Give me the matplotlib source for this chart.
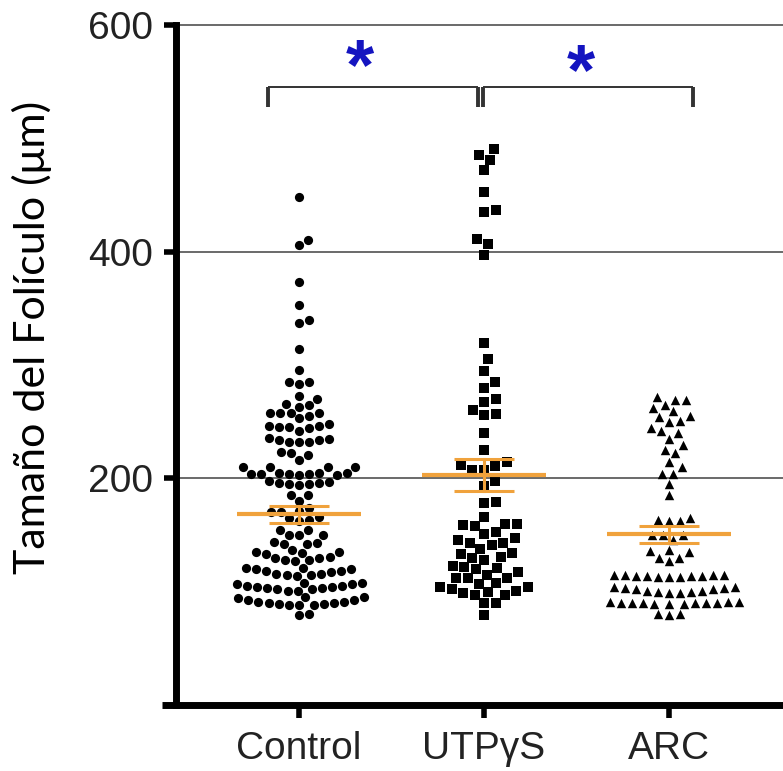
import numpy as np
import matplotlib
matplotlib.use('Agg')
import matplotlib.pyplot as plt
from matplotlib.lines import Line2D

# ---------------- data ----------------
categories = ['Control', 'UTPγS', 'ARC']

control_vals = [448, 410, 406, 373, 353, 340, 337, 314, 296, 285, 283, 285, 273, 270,
                266, 263, 265, 258, 258, 258, 258, 253, 255,
                248, 246, 245, 244, 246, 245, 242,
                236, 234, 232, 232, 232, 234, 235,
                223, 221, 222, 216,
                210, 210, 210, 210,
                205, 204, 205, 204, 203, 204, 205, 204, 203,
                198, 196, 195, 196, 197, 195, 194,
                185, 185, 180,
                174, 170, 170, 171, 166, 165, 162, 163,
                154, 154, 150, 150, 150,
                144, 142, 142, 143, 137,
                135, 134, 131, 130, 128, 127, 128, 130, 133, 135,
                121, 120, 118, 117, 116, 115, 114, 115, 116, 118, 120, 121,
                108, 107, 105, 104, 103, 102, 101, 101, 102, 103, 104, 105, 107, 108,
                95, 93, 91, 90, 89, 88, 88, 88, 89, 90, 91, 93, 95, 94,
                80, 79]

utp_vals = [491, 485, 481, 472, 453, 435, 437, 411, 407, 397, 319, 305, 295, 285, 280,
            267, 270, 257, 256, 260, 240, 225, 214, 212, 211, 207, 207, 198, 193,
            178, 179, 166, 160, 159, 153, 158, 160, 151, 147, 146, 143, 141, 143,
            138, 134, 131, 128, 133, 130, 123, 121, 117, 112, 112, 112, 115, 120, 122,
            108, 104, 102, 99, 97, 97, 100, 101, 104, 107, 90, 90, 79]

arc_vals = [272, 269, 265, 269, 262, 259, 255, 251, 250, 254, 244, 240, 235, 242,
            229, 222, 225, 214, 210, 204, 204, 195, 185, 165, 162, 162, 163,
            150, 146, 150, 150, 137, 135, 136, 130, 130, 127,
            115, 114, 113, 115, 114, 113, 114, 115, 114, 113, 115,
            104, 103, 102, 101, 100, 99, 99, 100, 101, 102, 103, 104,
            91, 90, 90, 89, 90, 91, 90, 89, 90, 91, 90, 89,
            80, 79, 80]

means = [168.2, 202.9, 150.5]
sems = [7.3, 14.3, 7.5]

yticks = [200, 400, 600]
ylabel = 'Tamaño del Folículo (μm)'
sig_labels = ['*', '*']

# ---------------- style ----------------
markers = ['o', 's', '^']
msizes = [44, 44, 46]
swarm_d = [10.2, 12.0, 11.0]
orange = '#F0A23C'

fig = plt.figure(figsize=(7.83, 7.71), dpi=100)
ax = fig.add_axes([176 / 783, 66 / 771, (783 - 176) / 783, 680 / 771])
ax.set_xlim(-0.665, 2.616)
ax.set_ylim(0, 600)

for s in ['top', 'right', 'bottom']:
    ax.spines[s].set_visible(False)
ax.spines['left'].set_linewidth(5)
ax.spines['left'].set_capstyle('projecting')
ax.add_line(Line2D([-0.023, 1.0], [0, 0], transform=ax.transAxes, lw=5,
                   color='black', clip_on=False, solid_capstyle='butt', zorder=5))

for y in yticks:
    ax.axhline(y, color='#505050', lw=1.2, zorder=1, clip_on=False)

ax.set_yticks(yticks)
ax.set_yticklabels([str(t) for t in yticks], family='Liberation Sans', fontsize=28)
ax.set_xticks(range(len(categories)))
ax.set_xticklabels(categories, family='Liberation Sans', fontsize=28)
ax.tick_params(axis='y', length=8.5, width=4, pad=8, colors='black')
ax.tick_params(axis='x', length=9.5, width=4, pad=9, colors='black')
for lab in ax.get_xticklabels() + ax.get_yticklabels():
    lab.set_color('#222222')


def swarm_offsets(ypx, d):
    ypx = np.asarray(ypx, float)
    xs = np.zeros(len(ypx))
    px, py = [], []
    for i in np.argsort(ypx, kind='stable'):
        y = ypx[i]
        nb = [(a, b) for a, b in zip(px, py) if abs(b - y) < d]
        cands = [0.0]
        for a, b in nb:
            dx = np.sqrt(d * d - (b - y) ** 2)
            cands += [a + dx, a - dx]
        cands = sorted(cands, key=lambda c: (round(abs(c), 6), -c))
        chosen = 0.0
        for c in cands:
            if all((c - a) ** 2 + (y - b) ** 2 >= d * d - 1e-6 for a, b in nb):
                chosen = c
                break
        xs[i] = chosen
        px.append(chosen)
        py.append(y)
    return xs


px_per_x = ax.transData.transform((1, 0))[0] - ax.transData.transform((0, 0))[0]
groups = [control_vals, utp_vals, arc_vals]
for gi, vals in enumerate(groups):
    ypx = ax.transData.transform(np.column_stack([np.zeros(len(vals)), vals]))[:, 1]
    off = swarm_offsets(ypx, swarm_d[gi]) / px_per_x
    ax.scatter(gi + off, vals, s=msizes[gi], marker=markers[gi], color='black',
               linewidths=0, zorder=3)
    # mean and SEM
    ax.plot([gi - 0.335, gi + 0.335], [means[gi]] * 2, color=orange, lw=3,
            zorder=4, solid_capstyle='butt')
    for sgn in (-1, 1):
        ax.plot([gi - 0.163, gi + 0.163], [means[gi] + sgn * sems[gi]] * 2,
                color=orange, lw=2.2, zorder=4, solid_capstyle='butt')
    ax.plot([gi, gi], [means[gi] - sems[gi], means[gi] + sems[gi]], color=orange,
            lw=2.2, zorder=4)

# significance brackets
brackets = [(-0.168, 0.968), (0.995, 2.13)]
br_y, br_leg = 545, 527.6
star_pos = [(0.33, 560), (1.524, 556)]
for (x0, x1), lab, (sx, sy) in zip(brackets, sig_labels, star_pos):
    ax.plot([x0, x1], [br_y, br_y], color='#333333', lw=1.4, zorder=2,
            solid_capstyle='butt')
    for xx in (x0, x1):
        ax.plot([xx, xx], [br_y, br_leg], color='#333333', lw=2.8, zorder=2,
                solid_capstyle='butt')
    ax.text(sx, sy, lab, color='#1414C0', fontsize=52, fontweight='bold',
            family='Liberation Sans', ha='center', va='center')

fig.text(32 / 783, 1 - 337 / 771, ylabel, rotation=90, ha='center', va='center',
         fontsize=31, family=['Lato', 'DejaVu Sans'], color='black')

fig.savefig('out.png', dpi=100, facecolor='white')
